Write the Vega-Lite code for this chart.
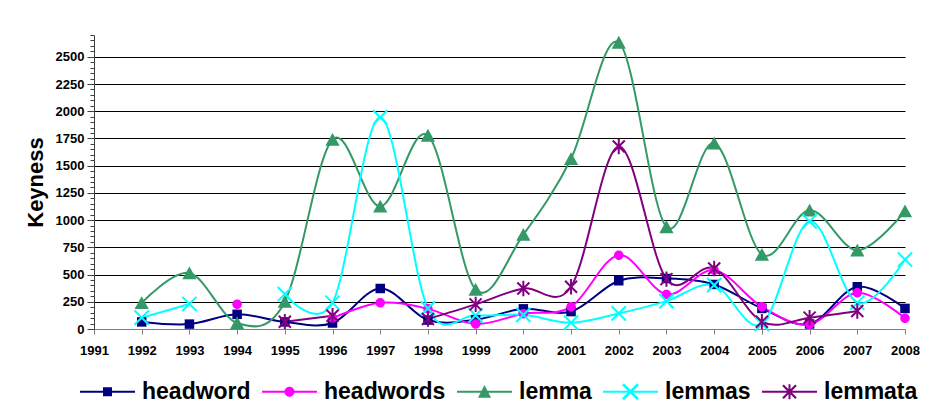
{
  "$schema": "https://vega.github.io/schema/vega-lite/v6.json",
  "width": 811,
  "height": 294,
  "autosize": {"type": "none"},
  "padding": {"left": 94, "top": 35, "right": 31, "bottom": 90},
  "background": "white",
  "config": {
    "font": "Liberation Sans",
    "view": {"stroke": null},
    "axis": {"labelFont": "Liberation Sans", "titleFont": "Liberation Sans"}
  },
  "data": {
    "values": [
      {"year": 1992, "series": "headword", "value": 65},
      {"year": 1993, "series": "headword", "value": 45},
      {"year": 1994, "series": "headword", "value": 135},
      {"year": 1995, "series": "headword", "value": 65},
      {"year": 1996, "series": "headword", "value": 55},
      {"year": 1997, "series": "headword", "value": 372},
      {"year": 1998, "series": "headword", "value": 82},
      {"year": 1999, "series": "headword", "value": 85},
      {"year": 2000, "series": "headword", "value": 185},
      {"year": 2001, "series": "headword", "value": 160},
      {"year": 2002, "series": "headword", "value": 443},
      {"year": 2003, "series": "headword", "value": 464},
      {"year": 2004, "series": "headword", "value": 409},
      {"year": 2005, "series": "headword", "value": 189},
      {"year": 2006, "series": "headword", "value": 46},
      {"year": 2007, "series": "headword", "value": 388},
      {"year": 2008, "series": "headword", "value": 189},
      {"year": 1994, "series": "headwords", "value": 228},
      {"year": 1995, "series": "headwords", "value": null},
      {"year": 1996, "series": "headwords", "value": 100},
      {"year": 1997, "series": "headwords", "value": 241},
      {"year": 1998, "series": "headwords", "value": 185},
      {"year": 1999, "series": "headwords", "value": 46},
      {"year": 2000, "series": "headwords", "value": 140},
      {"year": 2001, "series": "headwords", "value": 204},
      {"year": 2002, "series": "headwords", "value": 678},
      {"year": 2003, "series": "headwords", "value": 318},
      {"year": 2004, "series": "headwords", "value": 540},
      {"year": 2005, "series": "headwords", "value": 204},
      {"year": 2006, "series": "headwords", "value": 43},
      {"year": 2007, "series": "headwords", "value": 333},
      {"year": 2008, "series": "headwords", "value": 98},
      {"year": 1992, "series": "lemma", "value": 240},
      {"year": 1993, "series": "lemma", "value": 514},
      {"year": 1994, "series": "lemma", "value": 55},
      {"year": 1995, "series": "lemma", "value": 251},
      {"year": 1996, "series": "lemma", "value": 1740},
      {"year": 1997, "series": "lemma", "value": 1126},
      {"year": 1998, "series": "lemma", "value": 1777},
      {"year": 1999, "series": "lemma", "value": 363},
      {"year": 2000, "series": "lemma", "value": 867},
      {"year": 2001, "series": "lemma", "value": 1563},
      {"year": 2002, "series": "lemma", "value": 2631},
      {"year": 2003, "series": "lemma", "value": 937},
      {"year": 2004, "series": "lemma", "value": 1706},
      {"year": 2005, "series": "lemma", "value": 684},
      {"year": 2006, "series": "lemma", "value": 1090},
      {"year": 2007, "series": "lemma", "value": 723},
      {"year": 2008, "series": "lemma", "value": 1083},
      {"year": 1992, "series": "lemmas", "value": 104},
      {"year": 1993, "series": "lemmas", "value": 230},
      {"year": 1994, "series": "lemmas", "value": null},
      {"year": 1995, "series": "lemmas", "value": 321},
      {"year": 1996, "series": "lemmas", "value": 241},
      {"year": 1997, "series": "lemmas", "value": 1944},
      {"year": 1998, "series": "lemmas", "value": 189},
      {"year": 1999, "series": "lemmas", "value": 125},
      {"year": 2000, "series": "lemmas", "value": 130},
      {"year": 2001, "series": "lemmas", "value": 58},
      {"year": 2002, "series": "lemmas", "value": 143},
      {"year": 2003, "series": "lemmas", "value": 256},
      {"year": 2004, "series": "lemmas", "value": 403},
      {"year": 2005, "series": "lemmas", "value": 46},
      {"year": 2006, "series": "lemmas", "value": 989},
      {"year": 2007, "series": "lemmas", "value": 241},
      {"year": 2008, "series": "lemmas", "value": 638},
      {"year": 1995, "series": "lemmata", "value": 67},
      {"year": 1996, "series": "lemmata", "value": 122},
      {"year": 1997, "series": "lemmata", "value": null},
      {"year": 1998, "series": "lemmata", "value": 92},
      {"year": 1999, "series": "lemmata", "value": 226},
      {"year": 2000, "series": "lemmata", "value": 372},
      {"year": 2001, "series": "lemmata", "value": 388},
      {"year": 2002, "series": "lemmata", "value": 1676},
      {"year": 2003, "series": "lemmata", "value": 458},
      {"year": 2004, "series": "lemmata", "value": 556},
      {"year": 2005, "series": "lemmata", "value": 67},
      {"year": 2006, "series": "lemmata", "value": 104},
      {"year": 2007, "series": "lemmata", "value": 165}
    ]
  },
  "encoding": {
    "x": {
      "field": "year", "type": "quantitative",
      "scale": {"domain": [1991, 2008], "nice": false, "zero": false},
      "axis": {
        "title": null,
        "values": [1991, 1992, 1993, 1994, 1995, 1996, 1997, 1998, 1999, 2000, 2001, 2002, 2003, 2004, 2005, 2006, 2007, 2008],
        "format": "d",
        "grid": false,
        "tickSize": 5,
        "tickColor": "#808080",
        "domainColor": "#808080",
        "labelFontSize": 13,
        "labelFontWeight": "bold",
        "labelColor": "#000000",
        "labelPadding": 10,
        "labelFlush": false,
        "labelOverlap": false
      }
    },
    "y": {
      "field": "value", "type": "quantitative",
      "scale": {"domain": [0, 2700], "nice": false},
      "axis": {
        "title": "Keyness",
        "titleFontSize": 22,
        "titleFontWeight": "bold",
        "titleColor": "#000000",
        "titlePadding": 8,
        "values": [0, 50, 100, 150, 200, 250, 300, 350, 400, 450, 500, 550, 600, 650, 700, 750, 800, 850, 900, 950, 1000, 1050, 1100, 1150, 1200, 1250, 1300, 1350, 1400, 1450, 1500, 1550, 1600, 1650, 1700, 1750, 1800, 1850, 1900, 1950, 2000, 2050, 2100, 2150, 2200, 2250, 2300, 2350, 2400, 2450, 2500, 2550, 2600, 2650, 2700],
        "format": "d",
        "labelExpr": "datum.value % 250 === 0 ? datum.label : ''",
        "labelOverlap": false,
        "labelFontSize": 13,
        "labelFontWeight": "bold",
        "labelColor": "#000000",
        "labelPadding": 3,
        "tickSize": {"condition": {"test": "datum.value % 250 === 0", "value": 7}, "value": 4},
        "tickColor": "#404040",
        "domainColor": "#404040",
        "grid": true,
        "gridColor": "#000000",
        "gridWidth": 1,
        "gridOpacity": {"condition": {"test": "datum.value % 250 === 0 && datum.value > 0", "value": 1}, "value": 0}
      }
    }
  },
  "resolve": {"scale": {"color": "independent", "shape": "independent"}},
  "layer": [
    {
      "transform": [{"filter": "datum.value === -12345"}],
      "mark": {"type": "point", "filled": true, "opacity": 1},
      "encoding": {
        "color": {
          "field": "series", "type": "nominal",
          "scale": {"domain": ["headword", "headwords", "lemma", "lemmas", "lemmata"], "range": ["#000080", "#FF00FF", "#339966", "#00FFFF", "#800080"]},
          "legend": {
            "title": null,
            "orient": "none",
            "direction": "horizontal",
            "columns": 5,
            "legendX": 2,
            "legendY": 345,
            "padding": 0,
            "symbolSize": 400,
            "symbolStrokeWidth": 0,
            "symbolOpacity": 1,
            "symbolOffset": 0,
            "labelOffset": 23,
            "columnPadding": 11,
            "labelFontSize": 23,
            "labelFontWeight": "bold",
            "labelColor": "#000000",
            "labelFont": "Liberation Sans",
            "labelLimit": 300
          }
        },
        "shape": {
          "field": "series", "type": "nominal",
          "scale": {
            "domain": ["headword", "headwords", "lemma", "lemmas", "lemmata"],
            "range": [
              "M-2.75,-0.1H2.75V0.1H-2.75Z M-0.45,-0.45H0.45V0.45H-0.45Z",
              "M-2.75,-0.1H2.75V0.1H-2.75Z M0.5,0A0.5,0.5 0 1,1 -0.5,0A0.5,0.5 0 1,1 0.5,0Z",
              "M-2.75,-0.1H2.75V0.1H-2.75Z M0,-0.67L0.65,0.6L-0.65,0.6Z",
              "M-2.75,-0.1H2.75V0.1H-2.75Z M-0.66,-0.84L0.84,0.66L0.66,0.84L-0.84,-0.66Z M-0.66,0.84L-0.84,0.66L0.66,-0.84L0.84,-0.66Z",
              "M-2.75,-0.1H2.75V0.1H-2.75Z M-0.57,-0.73L0.73,0.57L0.57,0.73L-0.73,-0.57Z M-0.57,0.73L-0.73,0.57L0.57,-0.73L0.73,-0.57Z M-0.1,-0.75H0.1V0.75H-0.1Z"
            ]
          },
          "legend": {"title": null}
        }
      }
    },
    {
      "mark": {"type": "line", "interpolate": "cardinal", "strokeWidth": 2},
      "encoding": {
        "color": {
          "field": "series", "type": "nominal",
          "scale": {"domain": ["headword", "headwords", "lemma", "lemmas", "lemmata"], "range": ["#000080", "#FF00FF", "#339966", "#00FFFF", "#800080"]},
          "legend": null
        }
      }
    },
    {
      "transform": [{"filter": "datum.series === 'headword' || datum.series === 'headwords' || datum.series === 'lemma'"}],
      "mark": {"type": "point", "filled": true, "opacity": 1, "size": 90, "strokeWidth": 0},
      "encoding": {
        "color": {
          "field": "series", "type": "nominal",
          "scale": {"domain": ["headword", "headwords", "lemma", "lemmas", "lemmata"], "range": ["#000080", "#FF00FF", "#339966", "#00FFFF", "#800080"]},
          "legend": null
        },
        "shape": {
          "field": "series", "type": "nominal",
          "scale": {
            "domain": ["headword", "headwords", "lemma"],
            "range": [
              "M-1,-1H1V1H-1Z",
              "M1,0A1,1 0 1,1 -1,0A1,1 0 1,1 1,0Z",
              "M0,-1.4L1.5,1.3L-1.5,1.3Z"
            ]
          },
          "legend": null
        }
      }
    },
    {
      "transform": [{"filter": "datum.series === 'lemmas' || datum.series === 'lemmata'"}],
      "mark": {"type": "point", "filled": false, "opacity": 1, "size": 120, "strokeWidth": 2},
      "encoding": {
        "color": {
          "field": "series", "type": "nominal",
          "scale": {"domain": ["headword", "headwords", "lemma", "lemmas", "lemmata"], "range": ["#000080", "#FF00FF", "#339966", "#00FFFF", "#800080"]},
          "legend": null
        },
        "shape": {
          "field": "series", "type": "nominal",
          "scale": {
            "domain": ["lemmas", "lemmata"],
            "range": [
              "M-1.3,-1.3L1.3,1.3M-1.3,1.3L1.3,-1.3",
              "M-1.1,-1.1L1.1,1.1M-1.1,1.1L1.1,-1.1M0,-1.4L0,1.4"
            ]
          },
          "legend": null
        }
      }
    }
  ]
}
